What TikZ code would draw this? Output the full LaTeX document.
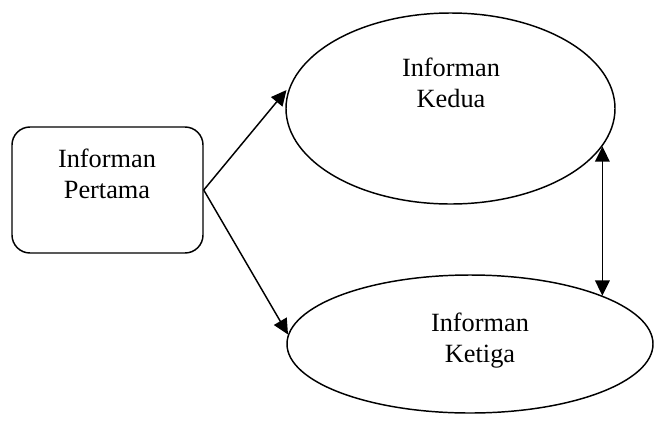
\documentclass[tikz,border=0pt]{standalone}
\usepackage{fontspec}
\setmainfont{Liberation Serif}
\usetikzlibrary{arrows.meta,shapes.geometric}

\tikzset{
  kotak/.style={draw, rounded corners=13.5pt, minimum width=143.25pt,
    minimum height=94.5pt, inner sep=0pt},
  elips/.style={draw, ellipse, inner sep=0pt},
  teks/.style={align=center, font=\fontsize{19.75}{23.25}\selectfont},
}

\begin{document}
\begin{tikzpicture}[x=0.75pt,y=-0.75pt,>={Triangle[length=11.5pt,width=11pt]},line width=1.1pt]
    \useasboundingbox (0,0) rectangle (656,422);

    \node[kotak] (pertama) at (107.5,190) {};
    \node[elips, minimum width=246.75pt, minimum height=143.25pt] (kedua)  at (450.5,108.5) {};
    \node[elips, minimum width=274.5pt,  minimum height=103.5pt]  (ketiga) at (470,344)     {};

    \node[teks] (tPertama) at (107,174)  {Informan\\Pertama};
    \node[teks] (tKedua)   at (451,82.5) {Informan\\Kedua};
    \node[teks] (tKetiga)  at (480,341)  {Informan\\Ketiga};

    \draw[->, shorten >=4pt] (pertama.east) -- (kedua.172);
    \draw[->] (pertama.east) -- (ketiga.177);
    \draw[<->] (kedua.-14) -- (kedua.-14 |- ketiga.20);
\end{tikzpicture}
\end{document}
